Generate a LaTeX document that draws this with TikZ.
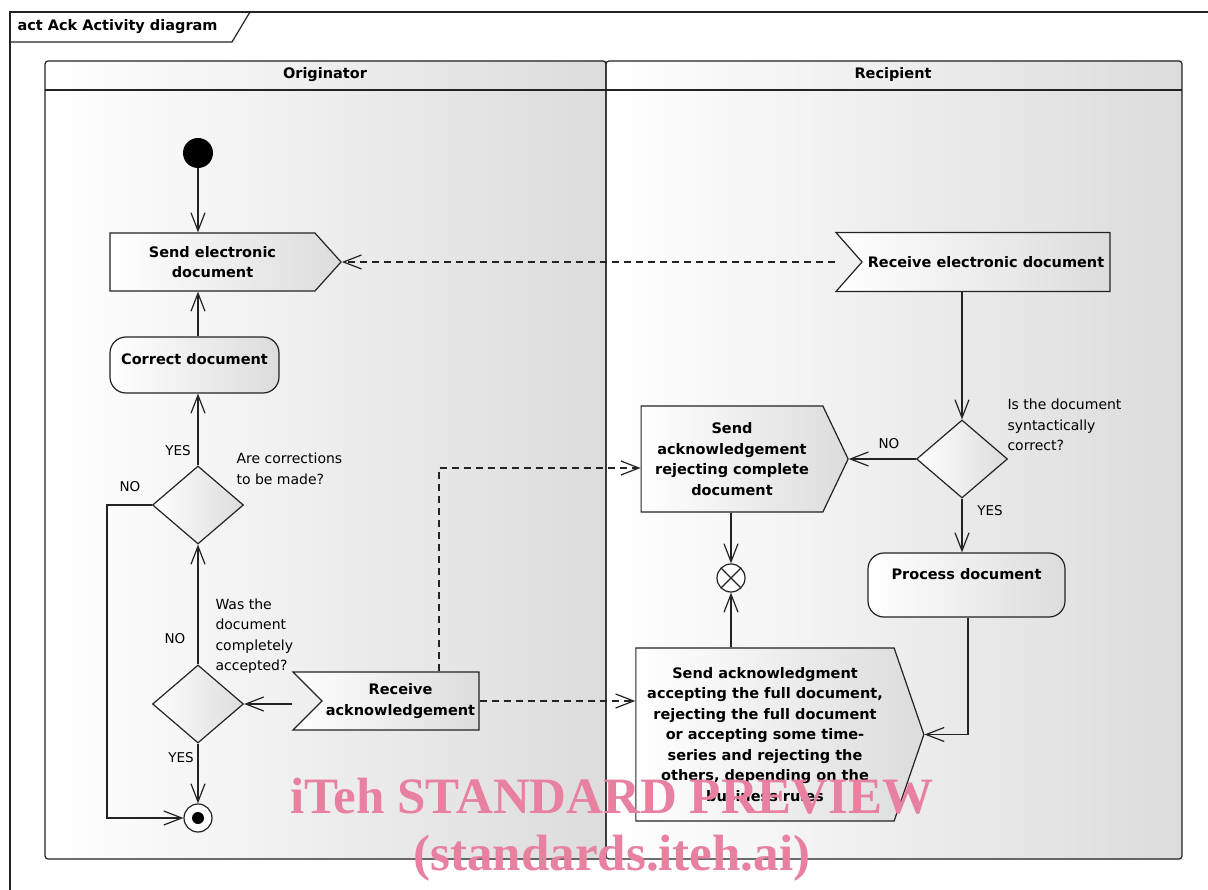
\documentclass[tikz,border=0pt]{standalone}
\usepackage{fontspec}
\setmainfont{DejaVu Sans}
\newfontfamily\stampfont{Liberation Serif}
\usepackage{tikz}
\usetikzlibrary{positioning}
\usetikzlibrary{shapes.geometric}
\usetikzlibrary{shapes.symbols}
\usetikzlibrary{arrows.meta}
\definecolor{lanegray}{RGB}{220,220,220}
\definecolor{linegray}{RGB}{35,35,35}
\definecolor{stamppink}{RGB}{232,128,160}
\newcommand{\guardlabel}[4]{ % Takes name, x coord, y coord, guard text as arguments
    \node [guard] (#1) at (#2, #3) {#4};
}
\tikzset{
    flow/.style={draw=linegray, line width=1.2pt, -{Straight Barb[length=18pt, width=14pt, line width=1.2pt]}},
    objflow/.style={flow, dashed, dash pattern=on 7pt off 5pt},
    action/.style={draw=linegray, line width=1.2pt, left color=white, right color=lanegray, align=center, font=\bfseries\fontsize{14.5}{20.5}\selectfont},
    roundact/.style={action, rectangle, rounded corners=16pt},
    sendsig/.style={action, signal, signal to=east},
    acceptsig/.style={action, signal, signal to=nowhere, signal from=west},
    decision/.style={draw=linegray, line width=1.2pt, diamond, left color=white, right color=lanegray, minimum width=91pt, minimum height=78pt, inner sep=0pt},
    guard/.style={font=\fontsize{13.5}{20.5}\selectfont},
    note/.style={align=left, anchor=west, font=\fontsize{14}{20.5}\selectfont},
}

\begin{document}
\begin{tikzpicture}[x=1pt, y=-1pt]
    \useasboundingbox (0,0) rectangle (1208,890);

    % Frame with title tab
    \draw[linegray, line width=1.2pt] (1220,12) -- (10,12) -- (10,900);
    \draw[linegray, line width=1.2pt] (10,42) -- (232,42) -- (250,12);
    \node[anchor=west, font=\bfseries\fontsize{14.5}{17}\selectfont] (frametitle) at (14,27) {act Ack Activity diagram};

    % Swimlanes
    \shade[left color=white, right color=lanegray] (45,61) rectangle (606,859);
    \shade[left color=white, right color=lanegray] (606,61) rectangle (1182,859);
    \draw[linegray, line width=1.2pt, rounded corners=3pt] (45,61) rectangle (606,859);
    \draw[linegray, line width=1.2pt, rounded corners=3pt] (606,61) rectangle (1182,859);
    \draw[linegray, line width=1.2pt] (45,90) -- (1182,90);
    \node[font=\bfseries\fontsize{14.5}{17}\selectfont] (originator) at (325,75) {Originator};
    \node[font=\bfseries\fontsize{14.5}{17}\selectfont] (recipient) at (893,75) {Recipient};

    % Originator side
    \node[circle, fill=black, minimum size=30pt, inner sep=0pt] (start) at (198,153) {};
    \node[sendsig, minimum width=231pt, minimum height=58pt, signal pointer angle=96] (senddoc) at (212.5,262) {Send electronic\\document};
    \node[roundact, minimum width=169pt, minimum height=56pt, text depth=13pt] (correctdoc) at (194.5,365) {Correct document};
    \node[decision] (corrdec) at (198,505) {};
    \node[decision] (accdec) at (198,704) {};
    \node[circle, draw=linegray, line width=1.2pt, fill=white, minimum size=28pt, inner sep=0pt,
          path picture={\fill[black] (path picture bounding box.center) circle (6pt);}] (finish) at (198,818) {};
    \node[acceptsig, minimum width=186pt, minimum height=58pt, signal pointer angle=90] (rcvack) at (400.5,701) {Receive\\acknowledgement};

    % Recipient side
    \node[acceptsig, minimum width=274pt, minimum height=59pt, signal pointer angle=97] (rcvdoc) at (986,262) {Receive electronic document};
    \node[decision] (syntaxdec) at (962,459) {};
    \node[sendsig, minimum width=207pt, minimum height=106pt, signal pointer angle=129] (sendreject) at (732,459) {Send\\acknowledgement\\rejecting complete\\document};
    \node[circle, draw=linegray, line width=1.2pt, fill=white, minimum size=28pt, inner sep=0pt,
          path picture={\draw[linegray, line width=1.2pt] (path picture bounding box.north west) -- (path picture bounding box.south east)
                        (path picture bounding box.north east) -- (path picture bounding box.south west);}] (flowend) at (731,578) {};
    \node[roundact, minimum width=197pt, minimum height=64pt, text depth=22pt] (processdoc) at (966.5,585) {Process document};
    \node[sendsig, minimum width=288pt, minimum height=173pt, signal pointer angle=142] (sendack) at (765,734.5)
        {Send acknowledgment\\accepting the full document,\\rejecting the full document\\or accepting some time-\\series and rejecting the\\others, depending on the\\business rules};

    % Questions
    \node[note] (corrq) at (233,469) {Are corrections\\to be made?};
    \node[note] (accq) at (212,636) {Was the\\document\\completely\\accepted?};
    \node[note] (syntaxq) at (1004,425) {Is the document\\syntactically\\correct?};

    % Control flows
    \coordinate (loopcorner) at (107,818);
    \draw[flow] (start) -- (start |- senddoc.north);
    \draw[flow] (correctdoc.north -| start) -- (start |- senddoc.south);
    \draw[flow] (corrdec.north) -- (corrdec.north |- correctdoc.south);
    \draw[flow] (corrdec.west) -| (loopcorner) -- (finish);
    \draw[flow] (accdec.north) -- (corrdec.south);
    \draw[flow] (accdec.south) -- (finish);
    \draw[flow] (rcvack.west) ++(-29,3) -- (accdec.east);
    \draw[flow] (syntaxdec.north |- rcvdoc.south) -- (syntaxdec.north);
    \draw[flow] (syntaxdec.west) -- (sendreject.east);
    \draw[flow] (syntaxdec.south) -- (syntaxdec.south |- processdoc.north);
    \draw[flow] (flowend.north |- sendreject.south) -- (flowend);
    \draw[flow] (flowend.south |- sendack.north) -- (flowend);
    \draw[flow] (processdoc.south) ++(1.5,0) |- (sendack.east);

    % Object flows
    \draw[objflow] (rcvdoc.west) ++(-26,0) -- (senddoc.east);
    \draw[objflow] (rcvack.north) ++(38.5,0) |- ([yshift=-9pt]sendreject.west);
    \draw[objflow] (rcvack.east) -- (rcvack.east -| sendack.west);

    % Guards
    \guardlabel{corryes}{178}{451}{YES}
    \guardlabel{corrno}{130}{487}{NO}
    \guardlabel{accno}{175}{639}{NO}
    \guardlabel{accyes}{181}{758}{YES}
    \guardlabel{syntaxno}{889}{444}{NO}
    \guardlabel{syntaxyes}{990}{511}{YES}

    % Watermark
    \node[text=stamppink, align=center, font=\stampfont\bfseries\fontsize{51}{57}\selectfont] (stamp) at (612,830) {iTeh STANDARD PREVIEW\\(standards.iteh.ai)};
\end{tikzpicture}
\end{document}
